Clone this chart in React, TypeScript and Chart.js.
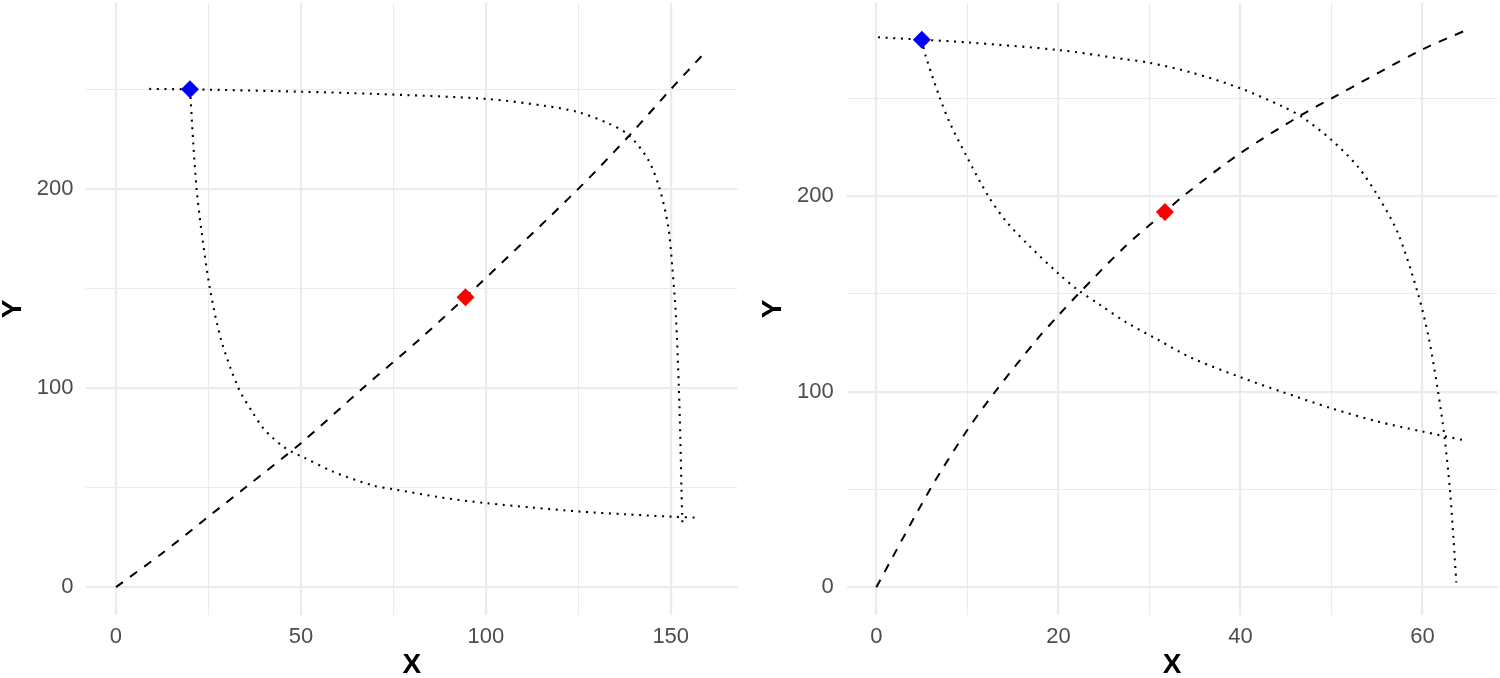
// Edgeworth-box style charts, two panels, with chart.js
import { useEffect, useRef } from 'react';
import Chart from 'chart.js/auto';

// ============= DATA =============
// left panel
const leftXMajor = [0, 50, 100, 150];
const leftXMinor = [25, 75, 125];
const leftYMajor = [0, 100, 200];
const leftYMinor = [50, 150, 250];

const leftContract: [number, number][] = [
    [0, 0], [12.5, 17], [25, 35.4], [35, 50], [50, 72.3], [66.8, 100], [82.2, 124.6],
    [97, 150], [125, 200], [138.9, 227], [150, 250], [159, 268],
];
const leftCurveA: [number, number][] = [
    [20, 250], [20.2, 244.6], [20.9, 222.9], [21.8, 199.8], [23.2, 177.7], [25.4, 149.9],
    [28.4, 124.4], [33.1, 100], [37.1, 87.3], [39.8, 79.8], [42.5, 74.8], [45.2, 70.6],
    [47.9, 67.6], [50.6, 65.3], [58.7, 58], [69.5, 51], [75, 49.2], [88, 45], [100, 42.2],
    [112.3, 40], [125, 38], [137.6, 36.6], [150, 35.4], [157.2, 34.9],
];
const leftCurveB: [number, number][] = [
    [9, 250.2], [20, 250], [50, 248.8], [70, 247.7], [100, 245.2], [116, 241.7], [125, 238.5],
    [133, 233], [138.5, 227.2], [143.9, 214.7], [147, 200], [149.3, 181.3], [150.4, 161.3],
    [151.4, 136.3], [152.2, 100], [152.6, 74], [152.9, 50], [153.1, 35.4], [153.2, 30.1],
];
const leftEndowment: [number, number] = [20, 250];
const leftEquilibrium: [number, number] = [94.5, 145.6];

// right panel
const rightXMajor = [0, 20, 40, 60];
const rightXMinor = [10, 30, 50];
const rightYMajor = [0, 100, 200];
const rightYMinor = [50, 150, 250];

const rightContract: [number, number][] = [
    [0, 0], [5.9, 50], [10, 80.4], [13.06, 100], [17.6, 126.5], [20, 139], [22.2, 150],
    [27.3, 174.1], [31.7, 191.9], [33.7, 200], [40, 222], [46.7, 241.5], [50, 250],
    [60, 275], [65, 285.3],
];
const rightCurveA: [number, number][] = [
    [5, 280], [5.45, 271.3], [7, 250], [8.1, 237.2], [9.95, 220.1], [12.3, 200], [14.3, 186.9],
    [16.9, 174.1], [20, 160.4], [22, 152.5], [24.6, 144.3], [27.4, 135.6], [31, 126.4],
    [34.7, 117.1], [40, 107.4], [44.5, 100], [50, 91.5], [55.1, 84.7], [60, 79.6], [64.7, 75],
];
const rightCurveB: [number, number][] = [
    [0.2, 281.2], [5, 280], [10, 278.6], [20, 274.7], [27.3, 270], [30, 268.2], [34.7, 263.1],
    [40, 255.1], [44.5, 246.1], [46.7, 240.6], [50, 228.7], [52.9, 215], [55.1, 200],
    [57.3, 181], [59.5, 150], [60.7, 127], [61.7, 100], [62.4, 77], [63, 50.1], [63.4, 24.2],
    [63.7, 2.4],
];
const rightEndowment: [number, number] = [5, 280];
const rightEquilibrium: [number, number] = [31.7, 191.9];

const FONT = '"Liberation Sans", Arial, Helvetica, sans-serif';

// ============= PANEL COMPONENT =============
interface PanelProps {
    contract: [number, number][];
    curveA: [number, number][];
    curveB: [number, number][];
    endowment: [number, number];
    equilibrium: [number, number];
    xRange: [number, number];
    yRange: [number, number];
    xMajor: number[];
    xMinor: number[];
    yMajor: number[];
    yMinor: number[];
    axisWidth: number;
    padRight: number;
    yTitlePad: number;
}

const toXY = (pts: [number, number][]) => pts.map(([x, y]) => ({ x, y }));

const Panel = (p: PanelProps) => {
    const chartRef = useRef<HTMLCanvasElement>(null);
    const chartInstance = useRef<Chart | null>(null);

    useEffect(() => {
        if (!chartRef.current) return;
        if (chartInstance.current) chartInstance.current.destroy();

        const ctx = chartRef.current.getContext('2d');
        if (!ctx) return;

        const dotted = { showLine: true, borderColor: '#000000', borderWidth: 2.1, borderDash: [2, 5.6], pointRadius: 0, tension: 0.3, fill: false };
        const diamond = (c: string) => ({ pointStyle: 'rectRot', pointRadius: 9, pointHoverRadius: 9, backgroundColor: c, borderColor: c, borderWidth: 0 });

        // major gridlines twice as thick as minor ones
        const gridWidth = (major: number[]) => (c: any) => (major.includes(c.tick?.value) ? 2.2 : 1.1);
        const allTicks = (major: number[], minor: number[]) => [...major, ...minor].sort((a, b) => a - b).map(v => ({ value: v }));

        chartInstance.current = new Chart(ctx, {
            type: 'scatter',
            data: {
                datasets: [
                    { data: toXY([p.endowment]), ...diamond('#0000FF') },
                    { data: toXY([p.equilibrium]), ...diamond('#FF0000') },
                    { data: toXY(p.contract), showLine: true, borderColor: '#000000', borderWidth: 2, borderDash: [8.7, 8.7], pointRadius: 0, tension: 0.3 },
                    { data: toXY(p.curveA), ...dotted },
                    { data: toXY(p.curveB), ...dotted },
                ] as any,
            },
            options: {
                animation: false,
                responsive: true,
                maintainAspectRatio: false,
                layout: { autoPadding: false, padding: { top: 2.7, right: p.padRight, bottom: 0, left: 0 } },
                plugins: { legend: { display: false }, tooltip: { enabled: false } },
                scales: {
                    x: {
                        type: 'linear',
                        min: p.xRange[0],
                        max: p.xRange[1],
                        afterBuildTicks: (s: any) => { s.ticks = allTicks(p.xMajor, p.xMinor); },
                        afterFit: (s: any) => { s.height = 63; s.paddingLeft = 0; s.paddingRight = 0; },
                        grid: { color: '#EBEBEB', lineWidth: gridWidth(p.xMajor), drawTicks: false },
                        border: { display: false },
                        ticks: {
                            autoSkip: false, maxRotation: 0, padding: 9, color: '#4D4D4D',
                            font: { family: FONT, size: 22 },
                            callback: (v: any) => (p.xMajor.includes(v) ? String(v) : ''),
                        },
                        title: {
                            display: true, text: 'X', color: '#000000',
                            font: { family: FONT, size: 28, weight: 'bold', lineHeight: 1 },
                            padding: { top: 0, bottom: -1 },
                        },
                    },
                    y: {
                        type: 'linear',
                        min: p.yRange[0],
                        max: p.yRange[1],
                        afterBuildTicks: (s: any) => { s.ticks = allTicks(p.yMajor, p.yMinor); },
                        afterFit: (s: any) => { s.width = p.axisWidth; s.paddingTop = 0; s.paddingBottom = 0; },
                        grid: { color: '#EBEBEB', lineWidth: gridWidth(p.yMajor), drawTicks: false },
                        border: { display: false },
                        ticks: {
                            autoSkip: false, padding: 13, color: '#4D4D4D',
                            font: { family: FONT, size: 22 },
                            callback: (v: any) => (p.yMajor.includes(v) ? String(v) : ''),
                        },
                        title: {
                            display: true, text: 'Y', color: '#000000',
                            font: { family: FONT, size: 28, weight: 'bold', lineHeight: 1 },
                            padding: { top: p.yTitlePad, bottom: 0 },
                        },
                    },
                },
            } as any,
        });

        return () => {
            if (chartInstance.current) {
                chartInstance.current.destroy();
                chartInstance.current = null;
            }
        };
    }, []);

    return (
        <div style={{ position: 'relative', width: 750, height: 678 }}>
            <canvas ref={chartRef}></canvas>
        </div>
    );
};

// ============= APP =============
export default function App() {
    return (
        <div style={{ position: 'absolute', left: 0, top: 0, width: 1500, height: 678, display: 'flex', background: '#ffffff' }}>
            <Panel
                contract={leftContract} curveA={leftCurveA} curveB={leftCurveB}
                endowment={leftEndowment} equilibrium={leftEquilibrium}
                xRange={[-8, 168]} yRange={[-14, 293.5]}
                xMajor={leftXMajor} xMinor={leftXMinor} yMajor={leftYMajor} yMinor={leftYMinor}
                axisWidth={86.4} padRight={12.7} yTitlePad={-1}
            />
            <Panel
                contract={rightContract} curveA={rightCurveA} curveB={rightCurveB}
                endowment={rightEndowment} equilibrium={rightEquilibrium}
                xRange={[-3.25, 68.25]} yRange={[-14.2, 298.9]}
                xMajor={rightXMajor} xMinor={rightXMinor} yMajor={rightYMajor} yMinor={rightYMinor}
                axisWidth={96.7} padRight={2.3} yTitlePad={9}
            />
        </div>
    );
}
